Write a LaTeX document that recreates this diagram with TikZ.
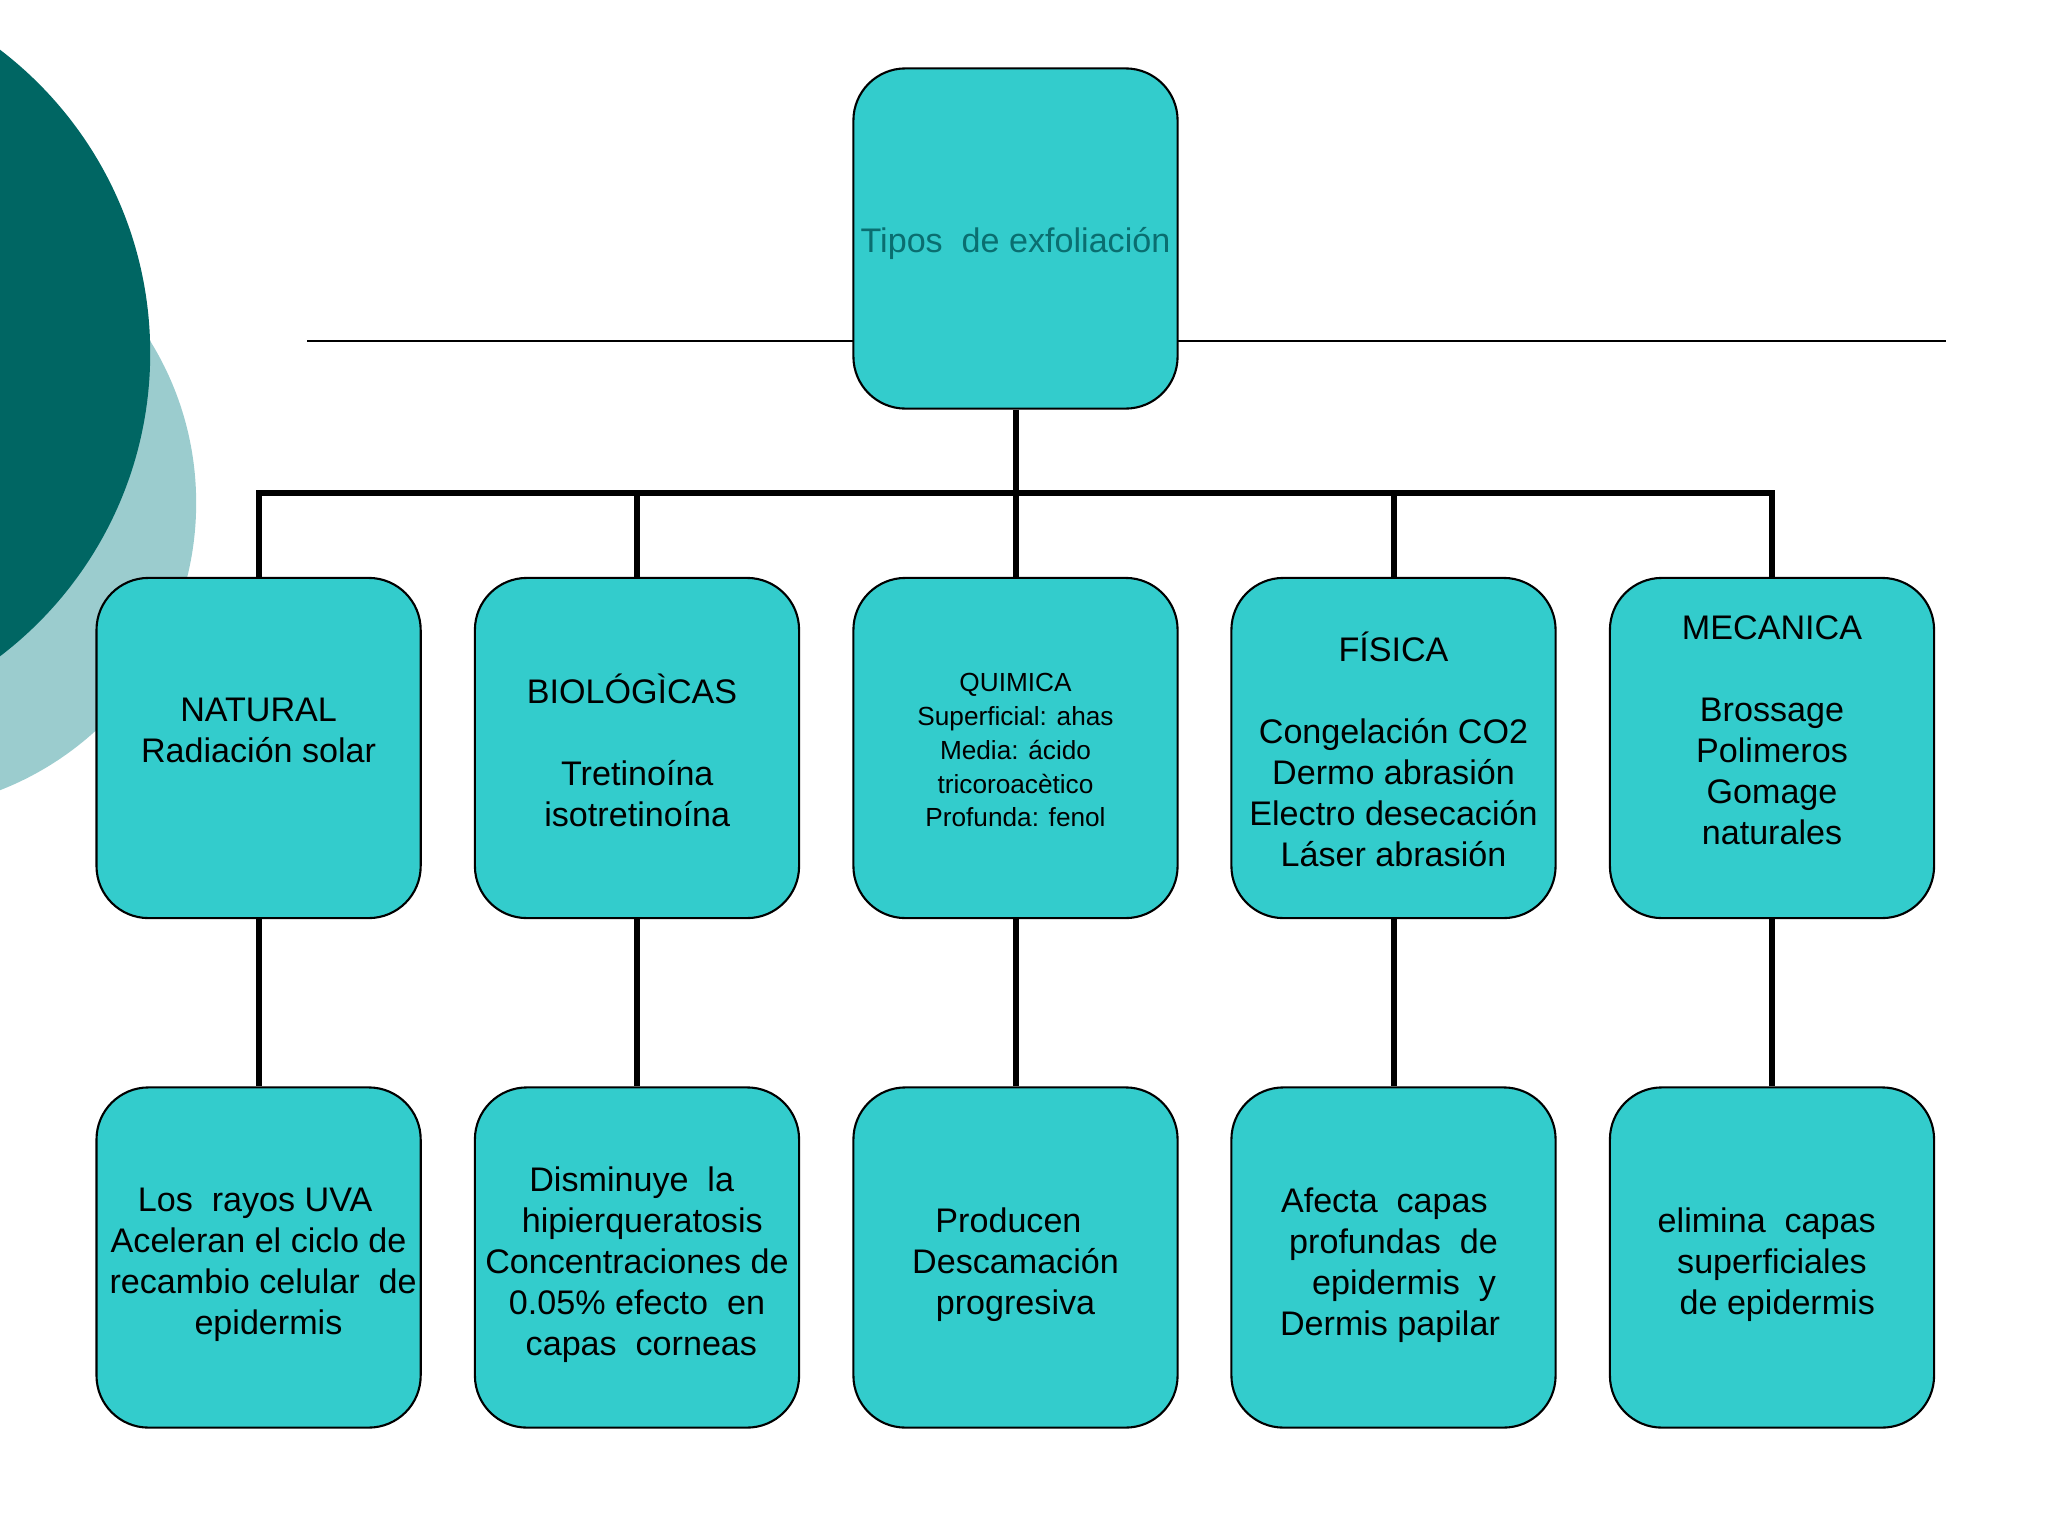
\documentclass[tikz,border=0pt]{standalone}
\usepackage{fontspec}
\setmainfont{Liberation Sans}
\definecolor{boxc}{RGB}{51,204,204}
\definecolor{darkc}{RGB}{0,102,99}
\definecolor{lightc}{RGB}{155,204,206}
\definecolor{titlec}{RGB}{10,110,112}
\begin{document}
\begin{tikzpicture}[x=0.01cm,y=-0.01cm,
  box/.style={draw=black,line width=0.6pt,fill=boxc,rounded corners=0.52cm,
    minimum width=3.24cm,minimum height=3.4cm,inner sep=0pt},
  big/.style={font=\fontsize{9.7}{11.66}\selectfont,align=center,inner sep=0pt},
  small/.style={font=\fontsize{7.45}{9.66}\selectfont,align=center,inner sep=0pt},
  conn/.style={line width=1.7pt,line join=miter},
  rule/.style={line width=0.55pt}]
\useasboundingbox (0,0) rectangle (2048,1536);
\begin{scope}
  \clip (0,0) rectangle (2048,1536);
  \fill[lightc] (-112,503) circle[radius=3.08cm];
  \fill[darkc] (-231,353) circle[radius=3.81cm];
\end{scope}
\coordinate (hl) at (307,341);
\coordinate (hr) at (1946,341);
\draw[rule] (hl) -- (hr);
% boxes
\node[box] (top) at (1015.5,238.5) {};
\node[box] (n1) at (258.6,748) {};
\node[box] (n2) at (637,748) {};
\node[box] (n3) at (1015.5,748) {};
\node[box] (n4) at (1393.5,748) {};
\node[box] (n5) at (1772,748) {};
\node[box] (m1) at (258.6,1257.5) {};
\node[box] (m2) at (637,1257.5) {};
\node[box] (m3) at (1015.5,1257.5) {};
\node[box] (m4) at (1393.5,1257.5) {};
\node[box] (m5) at (1772,1257.5) {};
% connectors
\coordinate (bus) at (1015.5,493);
\draw[conn] (n1.north) |- (bus) -| (n5.north);
\draw[conn] (top.south) -- (bus) -- (n3.north);
\draw[conn] (n2.north) -- (n2.north |- bus);
\draw[conn] (n4.north) -- (n4.north |- bus);
\draw[conn] (n1.south) -- (m1.north);
\draw[conn] (n2.south) -- (m2.north);
\draw[conn] (n3.south) -- (m3.north);
\draw[conn] (n4.south) -- (m4.north);
\draw[conn] (n5.south) -- (m5.north);
% texts
\node[big,text=titlec] (title) at (1015.5,243) {Tipos~ de exfoliación};
\node[big] (t1) at (258.6,730) {NATURAL\\Radiación solar};
\node[big] (t2) at (632,750) {BIOLÓGÌCAS\\[11.66pt]\hspace*{3pt}Tretinoína\\\hspace*{3pt}isotretinoína};
\node[small] (t3) at (1015.5,750) {QUIMICA\\Superficial: ahas\\Media: ácido\\tricoroacètico\\Profunda: fenol};
\node[big] (t4) at (1393.5,749) {FÍSICA\\[11.66pt]Congelación CO2\\Dermo abrasión\\Electro desecación\\Láser abrasión};
\node[big] (t5) at (1772,730) {MECANICA\\[11.66pt]Brossage\\Polimeros\\Gomage\\naturales};
\node[big] (u1) at (258.6,1265) {Los~ rayos UVA\hspace*{2pt}\\Aceleran el ciclo de\hspace*{3pt}\\\hspace*{2.6pt}recambio celular~ de\\\hspace*{5.6pt}epidermis};
\node[big] (u2) at (637,1265) {Disminuye~ la\hspace*{3pt}\\\hspace*{3pt}hipierqueratosis\\Concentraciones de\\0.05\% efecto~ en\\\hspace*{2.5pt}capas~ corneas};
\node[big] (u3) at (1015.5,1265) {Producen\hspace*{4pt}\\Descamación\\progresiva};
\node[big] (u4) at (1393.5,1265) {Afecta~ capas\hspace*{5.2pt}\\profundas~ de\\\hspace*{6pt}epidermis~ y\\Dermis papilar\hspace*{2pt}};
\node[big] (u5) at (1772,1265) {elimina~ capas\hspace*{3pt}\\superficiales\hspace*{3pt}\\\hspace*{3pt}de epidermis};
\end{tikzpicture}
\end{document}
